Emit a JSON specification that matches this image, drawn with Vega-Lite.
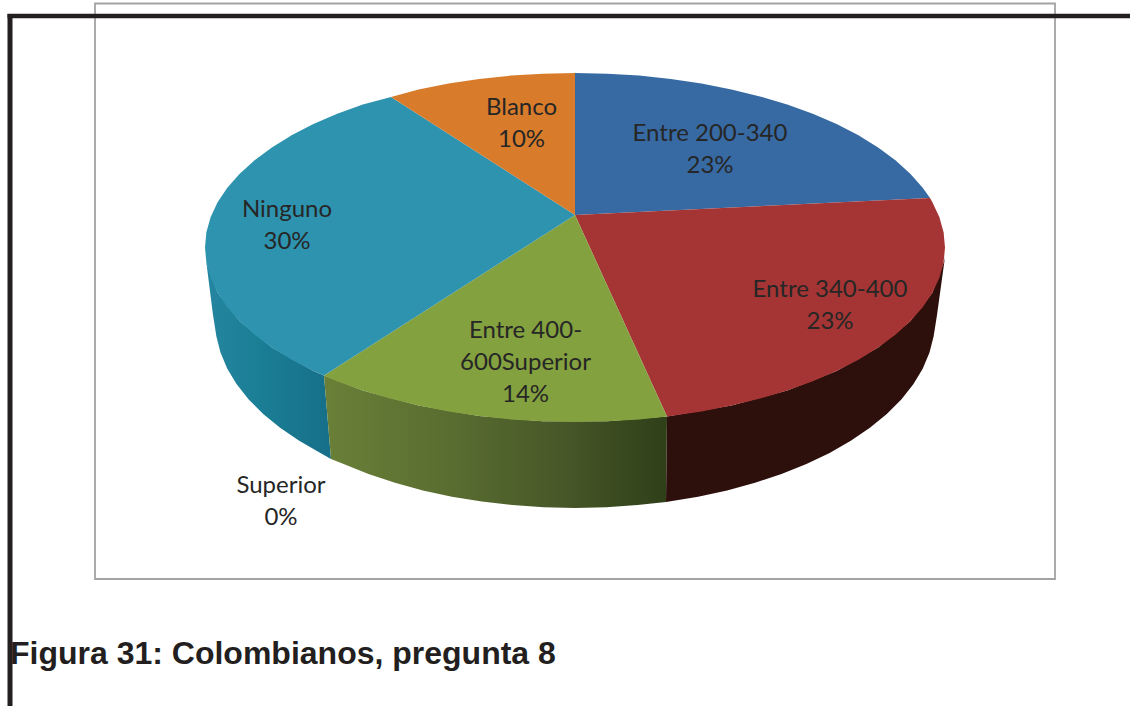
{
"$schema":"https://vega.github.io/schema/vega-lite/v6.json",
"width":1130,"height":706,"padding":0,"autosize":{"type":"none"},"background":"white",
"view":{"stroke":null},
"datasets":{
"sideNinguno":[{"x":206.4,"y":262.7},{"x":217.6,"y":292.7},{"x":239.7,"y":321.2},{"x":271.9,"y":347.6},{"x":313.4,"y":370.9},{"x":324,"y":375.5},{"x":331,"y":459},{"x":320.4,"y":452.9},{"x":299.2,"y":440.8},{"x":280.1,"y":427.8},{"x":263.2,"y":414},{"x":248.7,"y":399.5},{"x":236.7,"y":384.3},{"x":227.3,"y":368.7},{"x":220.5,"y":352.6},{"x":216.4,"y":336.4},{"x":213,"y":315}],
"sideVerde":[{"x":324,"y":375.5},{"x":362.8,"y":390.5},{"x":418.6,"y":405.6},{"x":479.2,"y":416},{"x":542.7,"y":421.3},{"x":607.3,"y":421.3},{"x":667,"y":416.5},{"x":666,"y":501.9},{"x":637.5,"y":505.1},{"x":606.4,"y":507.3},{"x":575,"y":508},{"x":543.6,"y":507.3},{"x":512.5,"y":505.1},{"x":481.8,"y":501.6},{"x":451.9,"y":496.7},{"x":422.9,"y":490.4},{"x":395,"y":482.8},{"x":368.5,"y":474},{"x":343.6,"y":464},{"x":331,"y":459}],
"sideRojo":[{"x":667,"y":416.5},{"x":731.4,"y":405.6},{"x":787.2,"y":390.5},{"x":836.6,"y":370.9},{"x":878.1,"y":347.6},{"x":910.3,"y":321.2},{"x":932.4,"y":292.7},{"x":943.6,"y":262.7},{"x":945,"y":257},{"x":937,"y":315},{"x":933.6,"y":336.4},{"x":929.5,"y":352.6},{"x":922.7,"y":368.7},{"x":913.3,"y":384.3},{"x":901.3,"y":399.5},{"x":886.8,"y":414},{"x":869.9,"y":427.8},{"x":850.8,"y":440.8},{"x":829.6,"y":452.9},{"x":806.4,"y":464},{"x":781.5,"y":474},{"x":755,"y":482.8},{"x":727.1,"y":490.4},{"x":698.1,"y":496.7},{"x":666,"y":501.9}],
"topAzul":[{"x":575,"y":215},{"x":575,"y":73},{"x":607.3,"y":73.7},{"x":639.2,"y":75.6},{"x":670.8,"y":79},{"x":701.5,"y":83.5},{"x":731.4,"y":89.4},{"x":760,"y":96.4},{"x":787.2,"y":104.5},{"x":812.8,"y":113.8},{"x":836.6,"y":124.1},{"x":858.4,"y":135.3},{"x":878.1,"y":147.4},{"x":895.4,"y":160.2},{"x":910.3,"y":173.8},{"x":922.7,"y":187.8},{"x":930,"y":198}],
"topRojo":[{"x":575,"y":215},{"x":930,"y":198},{"x":932.4,"y":202.3},{"x":939.4,"y":217.2},{"x":943.6,"y":232.3},{"x":945,"y":247.5},{"x":943.6,"y":262.7},{"x":939.4,"y":277.8},{"x":932.4,"y":292.7},{"x":922.7,"y":307.2},{"x":910.3,"y":321.2},{"x":895.4,"y":334.8},{"x":878.1,"y":347.6},{"x":858.4,"y":359.7},{"x":836.6,"y":370.9},{"x":812.8,"y":381.2},{"x":787.2,"y":390.5},{"x":760,"y":398.6},{"x":731.4,"y":405.6},{"x":701.5,"y":411.5},{"x":670.8,"y":416},{"x":667,"y":416.5}],
"topVerde":[{"x":575,"y":215},{"x":667,"y":416.5},{"x":639.2,"y":419.4},{"x":607.3,"y":421.3},{"x":575,"y":422},{"x":542.7,"y":421.3},{"x":510.8,"y":419.4},{"x":479.2,"y":416},{"x":448.5,"y":411.5},{"x":418.6,"y":405.6},{"x":390,"y":398.6},{"x":362.8,"y":390.5},{"x":337.2,"y":381.2},{"x":324,"y":375.5}],
"topNinguno":[{"x":575,"y":215},{"x":324,"y":375.5},{"x":313.4,"y":370.9},{"x":291.6,"y":359.7},{"x":271.9,"y":347.6},{"x":254.6,"y":334.8},{"x":239.7,"y":321.2},{"x":227.3,"y":307.2},{"x":217.6,"y":292.7},{"x":210.6,"y":277.8},{"x":206.4,"y":262.7},{"x":205,"y":247.5},{"x":206.4,"y":232.3},{"x":210.6,"y":217.2},{"x":217.6,"y":202.3},{"x":227.3,"y":187.8},{"x":239.7,"y":173.8},{"x":254.6,"y":160.2},{"x":271.9,"y":147.4},{"x":291.6,"y":135.3},{"x":313.4,"y":124.1},{"x":337.2,"y":113.8},{"x":362.8,"y":104.5},{"x":391,"y":97}],
"topBlanco":[{"x":575,"y":215},{"x":391,"y":97},{"x":418.6,"y":89.4},{"x":448.5,"y":83.5},{"x":479.2,"y":79},{"x":510.8,"y":75.6},{"x":542.7,"y":73.7},{"x":575,"y":73}],
"labels":[
{"label":"Entre 200-340","pct":"23%","text":"Entre 200-340\n23%","x":710,"y":133.5},
{"label":"Entre 340-400","pct":"23%","text":"Entre 340-400\n23%","x":830,"y":289.5},
{"label":"Entre 400-600Superior","pct":"14%","text":"Entre 400-\n600Superior\n14%","x":525.5,"y":330.5},
{"label":"Ninguno","pct":"30%","text":"Ninguno\n30%","x":287,"y":209.5},
{"label":"Blanco","pct":"10%","text":"Blanco\n10%","x":521.5,"y":107.5},
{"label":"Superior","pct":"0%","text":"Superior\n0%","x":281,"y":485.5}
]
},
"encoding":{
"x":{"field":"x","type":"quantitative","scale":{"domain":[0,1130],"nice":false,"zero":false},"axis":null},
"y":{"field":"y","type":"quantitative","scale":{"domain":[706,0],"nice":false,"zero":false},"axis":null}
},
"layer":[
{"data":{"values":[{"x":95,"x2":1055,"y":3.5,"y2":579}]},"mark":{"type":"rect","fill":null,"stroke":"#a3a3a3","strokeWidth":1.8},"encoding":{"x2":{"field":"x2"},"y2":{"field":"y2"}}},
{"data":{"values":[{"x":7.5,"x2":1130,"y":16,"y2":16}]},"mark":{"type":"rule","stroke":"#231f20","strokeWidth":4.5},"encoding":{"x2":{"field":"x2"}}},
{"data":{"values":[{"x":10,"x2":10,"y":14,"y2":706}]},"mark":{"type":"rule","stroke":"#231f20","strokeWidth":5},"encoding":{"y2":{"field":"y2"}}},
{"data":{"name":"sideNinguno"},"transform":[{"window":[{"op":"row_number","as":"o"}]}],"mark":{"type":"line","strokeWidth":0,"fill":{"gradient":"linear","x1":0,"y1":0,"x2":1,"y2":0,"stops":[{"offset":0,"color":"#2585a0"},{"offset":0.4,"color":"#1b7f96"},{"offset":1,"color":"#166f88"}]}},"encoding":{"order":{"field":"o"}}},
{"data":{"name":"sideVerde"},"transform":[{"window":[{"op":"row_number","as":"o"}]}],"mark":{"type":"line","strokeWidth":0,"fill":{"gradient":"linear","x1":0,"y1":0,"x2":1,"y2":0,"stops":[{"offset":0,"color":"#6a8038"},{"offset":0.35,"color":"#5a6e31"},{"offset":0.7,"color":"#475728"},{"offset":1,"color":"#2f3f18"}]}},"encoding":{"order":{"field":"o"}}},
{"data":{"name":"sideRojo"},"transform":[{"window":[{"op":"row_number","as":"o"}]}],"mark":{"type":"line","strokeWidth":0,"fill":"#2d0f0c"},"encoding":{"order":{"field":"o"}}},
{"data":{"name":"topAzul"},"transform":[{"window":[{"op":"row_number","as":"o"}]}],"mark":{"type":"line","strokeWidth":0,"fill":"#376aa3"},"encoding":{"order":{"field":"o"}}},
{"data":{"name":"topRojo"},"transform":[{"window":[{"op":"row_number","as":"o"}]}],"mark":{"type":"line","strokeWidth":0,"fill":"#a53534"},"encoding":{"order":{"field":"o"}}},
{"data":{"name":"topVerde"},"transform":[{"window":[{"op":"row_number","as":"o"}]}],"mark":{"type":"line","strokeWidth":0,"fill":"#84a13f"},"encoding":{"order":{"field":"o"}}},
{"data":{"name":"topNinguno"},"transform":[{"window":[{"op":"row_number","as":"o"}]}],"mark":{"type":"line","strokeWidth":0,"fill":"#2e93ae"},"encoding":{"order":{"field":"o"}}},
{"data":{"name":"topBlanco"},"transform":[{"window":[{"op":"row_number","as":"o"}]}],"mark":{"type":"line","strokeWidth":0,"fill":"#d87c2c"},"encoding":{"order":{"field":"o"}}},
{"data":{"name":"labels"},"mark":{"type":"text","font":"Lato","fontSize":24,"color":"#262626","lineBreak":"\n","lineHeight":32,"align":"center","baseline":"middle"},"encoding":{"text":{"field":"text"}}},
{"data":{"values":[{"x":10,"y":664,"text":"Figura 31: Colombianos, pregunta 8"}]},"mark":{"type":"text","font":"Liberation Sans","fontWeight":"bold","fontSize":32,"color":"#231f20","align":"left","baseline":"alphabetic"},"encoding":{"text":{"field":"text"}}}
]
}
